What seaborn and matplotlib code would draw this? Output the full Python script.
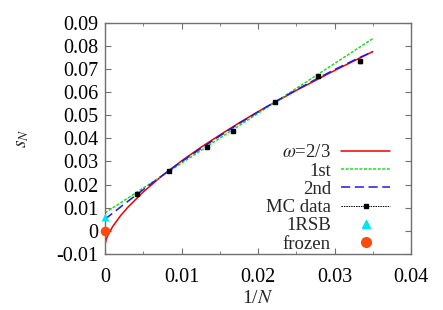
"""
Finite-size scaling of s_N against 1/N
"""

import matplotlib
matplotlib.use("Agg")
import matplotlib.pyplot as plt
from matplotlib.lines import Line2D
import seaborn as sns

# MC data (1/N, s_N)
mc_x = [1/240, 1/120, 1/75, 1/60, 1/45, 1/36, 1/30]
mc_y = [0.0158, 0.0259, 0.0363, 0.0431, 0.0555, 0.0670, 0.0733]
mc_err = [0.0004, 0.0004, 0.0004, 0.0005, 0.0004, 0.0005, 0.0006]

# fit curve omega=2/3
w_x = [0.0, 0.0002, 0.0005, 0.001, 0.002, 0.003, 0.005, 0.0075, 0.01,
       0.0125, 0.015, 0.0175, 0.02, 0.025, 0.03, 0.035]
w_y = [-0.0060, -0.0033, -0.0011, 0.0018, 0.0064, 0.0102, 0.0168, 0.0239,
       0.0302, 0.0360, 0.0414, 0.0466, 0.0515, 0.0607, 0.0693, 0.0775]

# 1st order fit
first_x = [0.0, 0.035]
first_y = [0.0077, 0.0831]

# 2nd order fit
second_x = [0.0, 0.0025, 0.005, 0.0075, 0.01, 0.0125, 0.015, 0.0175,
            0.02, 0.0225, 0.025, 0.0275, 0.03, 0.0325, 0.035]
second_y = [0.0050, 0.0115, 0.0178, 0.0239, 0.0299, 0.0355, 0.0410, 0.0463,
            0.0514, 0.0563, 0.0609, 0.0654, 0.0697, 0.0737, 0.0775]

# single points at 1/N = 0
rsb_x, rsb_y = [0.0], [0.0060]
frozen_x, frozen_y = [0.0], [0.0]

# ticks
x_ticks = [0.0, 0.01, 0.02, 0.03, 0.04]
x_labels = ['0', '0.01', '0.02', '0.03', '0.04']
x_minor = [0.005, 0.015, 0.025, 0.035]
y_ticks = [-0.01, 0.0, 0.01, 0.02, 0.03, 0.04, 0.05, 0.06, 0.07, 0.08, 0.09]
y_labels = ['-0.01', '0', '0.01', '0.02', '0.03', '0.04', '0.05',
            '0.06', '0.07', '0.08', '0.09']

sns.set_style("ticks")
plt.rcParams['font.family'] = ['Liberation Serif', 'DejaVu Serif']
plt.rcParams['mathtext.fontset'] = 'stix'

fig = plt.figure(figsize=(4.43, 3.10), dpi=100)
ax = fig.add_axes([0.237, 0.181, 0.691, 0.746])

sns.lineplot(x=w_x, y=w_y, ax=ax, color='#ee0000', lw=1.1, legend=False)
sns.lineplot(x=first_x, y=first_y, ax=ax, color='#22dd22', lw=1.1,
             linestyle=(0, (2, 1)), legend=False)
sns.lineplot(x=second_x, y=second_y, ax=ax, color='#1a1aee', lw=1.1,
             linestyle=(0, (6, 3)), legend=False)
ax.errorbar(mc_x, mc_y, yerr=mc_err, fmt='s', color='black', ms=3,
            elinewidth=0.6, capsize=1.2, zorder=5)
ax.scatter(rsb_x, rsb_y, marker='^', s=32, color='#00e5ee', zorder=6,
           clip_on=False, linewidths=0)
ax.scatter(frozen_x, frozen_y, marker='o', s=48, color='#ff4a0a', zorder=6,
           clip_on=False, linewidths=0)

ax.set_xlim(0, 0.04)
ax.set_ylim(-0.01, 0.09)
ax.set_xticks(x_ticks, x_labels)
ax.set_xticks(x_minor, minor=True)
ax.set_yticks(y_ticks, y_labels)
ax.tick_params(which='both', direction='in', top=True, right=True,
               labelsize=14.5, color='#707070', labelcolor='black')
ax.tick_params(axis='x', pad=10)
ax.tick_params(axis='y', pad=5)
ax.tick_params(which='major', length=4)
ax.tick_params(which='minor', length=2.5)
for s in ax.spines.values():
    s.set_color('#707070')
    s.set_linewidth(1.0)

ax.set_xlabel(r'1/$N$', fontsize=14, labelpad=2)
ax.set_ylabel(r'$s_N$', fontsize=14, labelpad=18)

# gnuplot-like key: label left of sample, right aligned
handles = [
    Line2D([], [], color='#ee0000', lw=1.1),
    Line2D([], [], color='#22dd22', lw=1.1, linestyle=(0, (2, 1))),
    Line2D([], [], color='#1a1aee', lw=1.1, linestyle=(0, (6, 3))),
    Line2D([], [], color='black', lw=0.7, linestyle=(0, (1.5, 1)), marker='s', ms=2.5),
    Line2D([], [], color='#00e5ee', lw=0, marker='^', ms=6),
    Line2D([], [], color='#ff4a0a', lw=0, marker='o', ms=7),
]
labels = [r'$\omega$=2/3', '1st', '2nd', 'MC data', '1RSB', 'frozen']
leg = ax.legend(handles, labels, loc='lower right', bbox_to_anchor=(0.931, 0.005),
                frameon=False, markerfirst=False, fontsize=13.5, handlelength=2.6,
                handletextpad=0.55, labelspacing=0.06, borderaxespad=0.0,
                borderpad=0.0)
for col in leg._legend_handle_box.get_children():
    col.align = 'right'

plt.savefig('out.png', dpi=100)
plt.close()
